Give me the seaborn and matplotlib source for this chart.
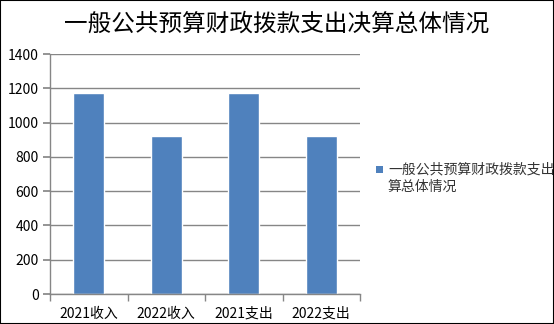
import matplotlib
matplotlib.use("Agg")
import matplotlib.pyplot as plt
import seaborn as sns
import pandas as pd
import numpy as np

categories = ["2021收入", "2022收入", "2021支出", "2022支出"]
values = [1173, 922, 1173, 922]
series_name = "一般公共预算财政拨款支出决算总体情况"
legend_lines = ["一般公共预算财政拨款支出", "算总体情况"]
title = "一般公共预算财政拨款支出决算总体情况"
yticks = [0, 200, 400, 600, 800, 1000, 1200, 1400]
bar_color = "#4F81BD"

sns.set_theme(style="white")
plt.rcParams['font.family'] = ['Noto Sans CJK SC', 'DejaVu Sans']

df = pd.DataFrame({"cat": categories, "val": values, "series": series_name})

fig = plt.figure(figsize=(5.54, 3.24), dpi=100)
ax = fig.add_axes([50/554, 1 - 294/324, (360-50)/554, (294-54)/324])
sns.barplot(data=df, x="cat", y="val", hue="series", palette=[bar_color],
            width=0.4, ax=ax, saturation=1, legend=False)

ax.set_ylim(0, 1400)
ax.set_yticks(yticks)
ax.set_xlim(-0.5, 3.5)
ax.yaxis.grid(True, color="#868686", linewidth=1)
ax.set_axisbelow(True)
for s in ["top", "right"]:
    ax.spines[s].set_visible(False)
for s in ["left", "bottom"]:
    ax.spines[s].set_color("#868686")
    ax.spines[s].set_linewidth(1)
ax.set_xlabel("")
ax.set_ylabel("")
ax.tick_params(axis="y", left=True, length=5, color="#868686", labelsize=10, labelcolor="#000000", pad=3)
ax.tick_params(axis="x", bottom=False, labelsize=10, labelcolor="#000000", pad=3)
ax.set_xticks(range(len(categories)))
ax.set_xticklabels(categories)
ax.set_xticks(np.arange(-0.5, 4.0, 1.0), minor=True)
ax.tick_params(axis="x", which="minor", bottom=True, length=5, color="#868686")

# legend (drawn manually so the marker aligns with the first line)
fig.patches.append(plt.Rectangle((376/554, 1 - 173/324), 7/554, 7/324,
                                 transform=fig.transFigure, facecolor=bar_color, edgecolor="none"))
fig.text(388/554, 1 - 169/324, legend_lines[0], ha="left", va="center", fontsize=10, color="#333333")
fig.text(388/554, 1 - 187/324, legend_lines[1], ha="left", va="center", fontsize=10, color="#333333")

fig.text(0.5, 1 - 24/324, title, ha="center", va="center", fontsize=17, fontweight="light", color="#000000")

border = plt.Rectangle((0, 0), 1, 1, transform=fig.transFigure, fill=False, edgecolor="#000000", linewidth=1.5)
fig.patches.append(border)

fig.savefig("out.png", dpi=100)
